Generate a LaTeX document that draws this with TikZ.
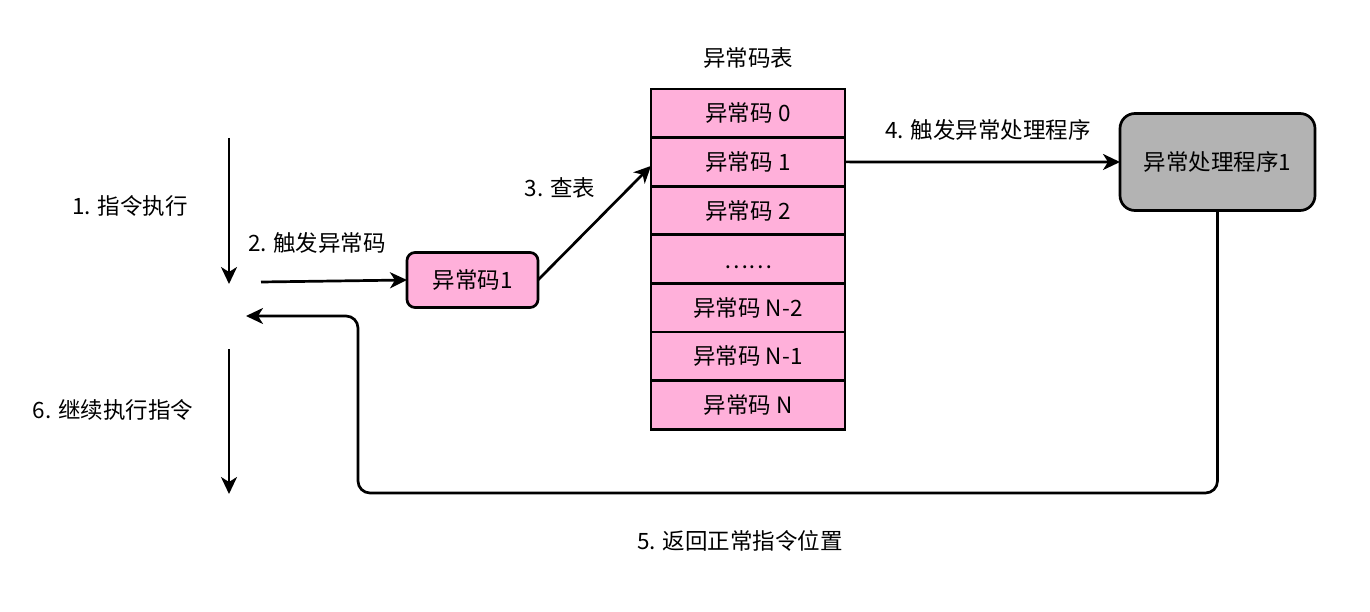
\documentclass[tikz,border=0pt]{standalone}
\usepackage{fontspec}
\setmainfont{Noto Sans CJK SC}
\usetikzlibrary{arrows.meta,calc}
\definecolor{tblpink}{HTML}{FFB0DA}
\definecolor{hgray}{HTML}{B3B3B3}
\begin{document}
\begin{tikzpicture}[x=1pt,y=-1pt,
  every node/.style={font=\fontsize{22.5}{26}\selectfont, inner sep=0pt},
  arr/.style={line width=2.7pt,-{Stealth[length=17pt,width=16pt,inset=5pt]}},
  row/.style={draw, line width=2.7pt, fill=tblpink, minimum width=194pt, minimum height=48.6pt, outer sep=0pt, anchor=north},
  codebox/.style={draw, line width=2.7pt, fill=tblpink, rounded corners=8pt, minimum width=131pt, minimum height=55pt, outer sep=0pt},
  handler/.style={draw, line width=2.7pt, fill=hgray, rounded corners=15pt, minimum width=195pt, minimum height=97pt, outer sep=0pt},
  lbl/.style={}]
\useasboundingbox (0,0) rectangle (1370,612);

% left arrows
\coordinate (a1s) at (229,138);
\coordinate (a1e) at (229,284);
\draw[arr] (a1s) -- (a1e);
\node[lbl] (l1) at (130,206) {1. 指令执行};

\coordinate (a2s) at (261,282);
\node[codebox] (code) at (472.5,280) {异常码1};
\draw[arr] (a2s) -- (code.west);
\node[lbl] (l2) at (317,243) {2. 触发异常码};

% table
\node (title) at (748,58) {异常码表};
\node[row] (r0) at (748,89) {异常码 0};
\node[row] (r1) at (r0.south) {异常码 1};
\node[row] (r2) at (r1.south) {异常码 2};
\node[row] (r3) at (r2.south) {\raisebox{-8pt}[\height][\depth]{……}};
\node[row] (r4) at (r3.south) {异常码 N-2};
\node[row] (r5) at (r4.south) {异常码 N-1};
\node[row] (r6) at (r5.south) {异常码 N};

\draw[arr] (code.east) -- ([yshift=-4pt]r1.west);
\node[lbl] (l3) at (560,188) {3. 查表};

% handler
\node[handler] (h) at (1217.5,162) {异常处理程序1};
\draw[arr] (r1.east) -- (h.west);
\node[lbl] (l4) at (988,130) {4. 触发异常处理程序};

% return
\coordinate (ret) at (246,316);
\draw[arr, rounded corners=12pt] (h.south) -- (1217.5,493) -- (358,493) -- (358,316) -- (ret);
\node[lbl] (l5) at (740,541) {5. 返回正常指令位置};

\coordinate (a6s) at (229,349);
\coordinate (a6e) at (229,494);
\draw[arr] (a6s) -- (a6e);
\node[lbl] (l6) at (113,410) {6. 继续执行指令};
\end{tikzpicture}
\end{document}
